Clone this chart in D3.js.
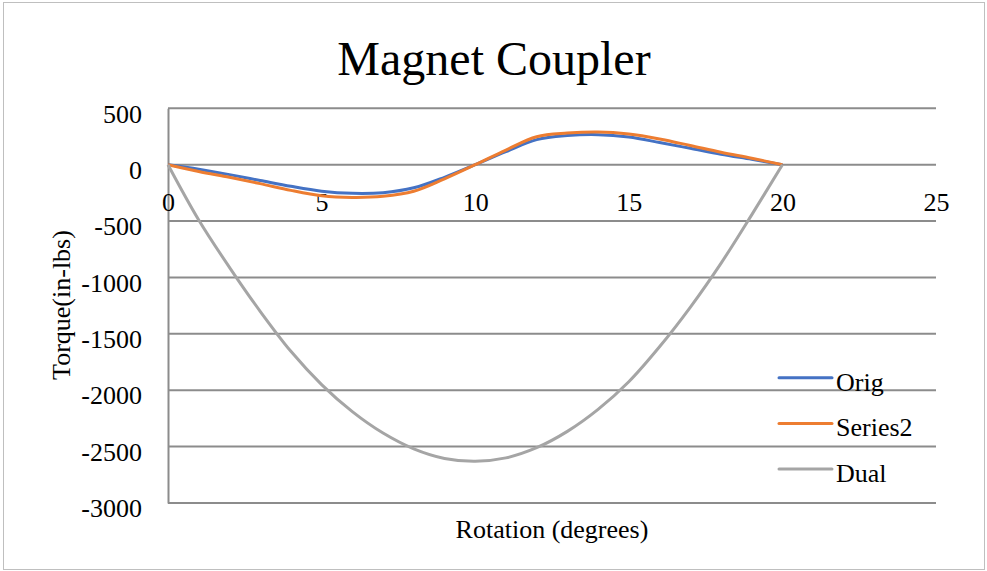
<!DOCTYPE html>
<html>
<head>
<meta charset="utf-8">
<script src="https://cdn.jsdelivr.net/npm/d3@7"></script>
<style>
  body { margin: 0; background: #fff; }
  svg text { font-family: "Liberation Serif", "Times New Roman", serif; fill: #000; }
</style>
</head>
<body>
<svg id="chart"></svg>
<script>
const degrees = [0, 1, 2, 3, 4, 5, 6, 7, 8, 9, 10, 11, 12, 13, 14, 15, 16, 17, 18, 19, 20];
const orig    = [0, -40, -88, -140, -192, -235, -254, -248, -205, -112, 0, 115, 222, 258, 266, 245, 197, 145, 92, 47, 0];
const series2 = [0, -60, -112, -168, -228, -275, -290, -280, -235, -125, 0, 130, 248, 280, 290, 272, 228, 170, 110, 57, 0];
const dual    = [0, -490, -910, -1300, -1655, -1950, -2190, -2380, -2520, -2605, -2630, -2600, -2510, -2365, -2170, -1925, -1615, -1265, -875, -445, 0];

const xTicks = [0, 5, 10, 15, 20, 25];
const yTicks = [500, 0, -500, -1000, -1500, -2000, -2500, -3000];

const seriesList = [
    { name: "Orig", values: orig, color: "#4472C4" },
    { name: "Series2", values: series2, color: "#ED7D31" },
    { name: "Dual", values: dual, color: "#A5A5A5" }
];

const width = 987;
const height = 571;
const margin = { top: 108.3, right: 51, bottom: 68, left: 168 };

const svg = d3.select("#chart")
    .attr("width", width)
    .attr("height", height);

// outer border
svg.append("rect")
    .attr("x", 3.5).attr("y", 2.5)
    .attr("width", width - 6).attr("height", height - 4)
    .attr("fill", "#fff")
    .attr("stroke", "#bfbfbf")
    .attr("stroke-width", 1);

const x = d3.scaleLinear()
    .domain([0, 25])
    .range([margin.left, width - margin.right]);

const y = d3.scaleLinear()
    .domain([-3000, 500])
    .range([height - margin.bottom, margin.top]);

// horizontal gridlines
svg.append("g")
    .selectAll("line")
    .data(yTicks)
    .enter().append("line")
    .attr("x1", x(0))
    .attr("x2", x(25))
    .attr("y1", d => y(d))
    .attr("y2", d => y(d))
    .attr("stroke", "#8c8c8c")
    .attr("stroke-width", 2);

// y axis (plain hyphen for negatives)
const gY = svg.append("g")
    .attr("transform", `translate(${x(0)},0)`)
    .attr("font-family", "Liberation Serif")
    .call(d3.axisLeft(y).tickValues(yTicks).tickSize(0).tickPadding(26).tickFormat(d => String(d)));
gY.select(".domain").attr("stroke", "#8c8c8c").attr("stroke-width", 2);
gY.selectAll("text")
    .attr("dy", null)
    .attr("y", 13.7)
    .style("font-size", "26px")
    .style("font-family", "Liberation Serif");

// x axis crossing at 0
const gX = svg.append("g")
    .attr("transform", `translate(0,${y(0)})`)
    .call(d3.axisBottom(x).tickValues(xTicks).tickSize(0).tickFormat(d => String(d)));
gX.select(".domain").remove();
gX.selectAll("text")
    .attr("dy", null)
    .attr("y", 46)
    .style("font-size", "26px")
    .style("font-family", "Liberation Serif");

// lines
const line = d3.line()
    .x((d, i) => x(degrees[i]))
    .y(d => y(d))
    .curve(d3.curveCatmullRom.alpha(0.5));

seriesList.forEach(s => {
    svg.append("path")
        .datum(s.values)
        .attr("d", line)
        .attr("fill", "none")
        .attr("stroke", s.color)
        .attr("stroke-width", 3)
        .attr("stroke-linejoin", "round");
});

// title
svg.append("text")
    .attr("x", 494)
    .attr("y", 75)
    .attr("text-anchor", "middle")
    .style("font-size", "48px")
    .text("Magnet Coupler");

// axis titles
svg.append("text")
    .attr("x", 552)
    .attr("y", 538)
    .attr("text-anchor", "middle")
    .style("font-size", "26px")
    .text("Rotation (degrees)");

svg.append("text")
    .attr("transform", "translate(70,305) rotate(-90)")
    .attr("text-anchor", "middle")
    .style("font-size", "26px")
    .text("Torque(in-lbs)");

// legend
const legend = svg.append("g");
seriesList.forEach((s, i) => {
    const ly = 377.7 + i * 45.7;
    legend.append("line")
        .attr("x1", 779).attr("x2", 832)
        .attr("y1", ly).attr("y2", ly)
        .attr("stroke", s.color)
        .attr("stroke-width", 3)
        .attr("stroke-linecap", "round");
    legend.append("text")
        .attr("x", 836)
        .attr("y", ly + 13)
        .style("font-size", "26px")
        .text(s.name);
});
</script>
</body>
</html>
